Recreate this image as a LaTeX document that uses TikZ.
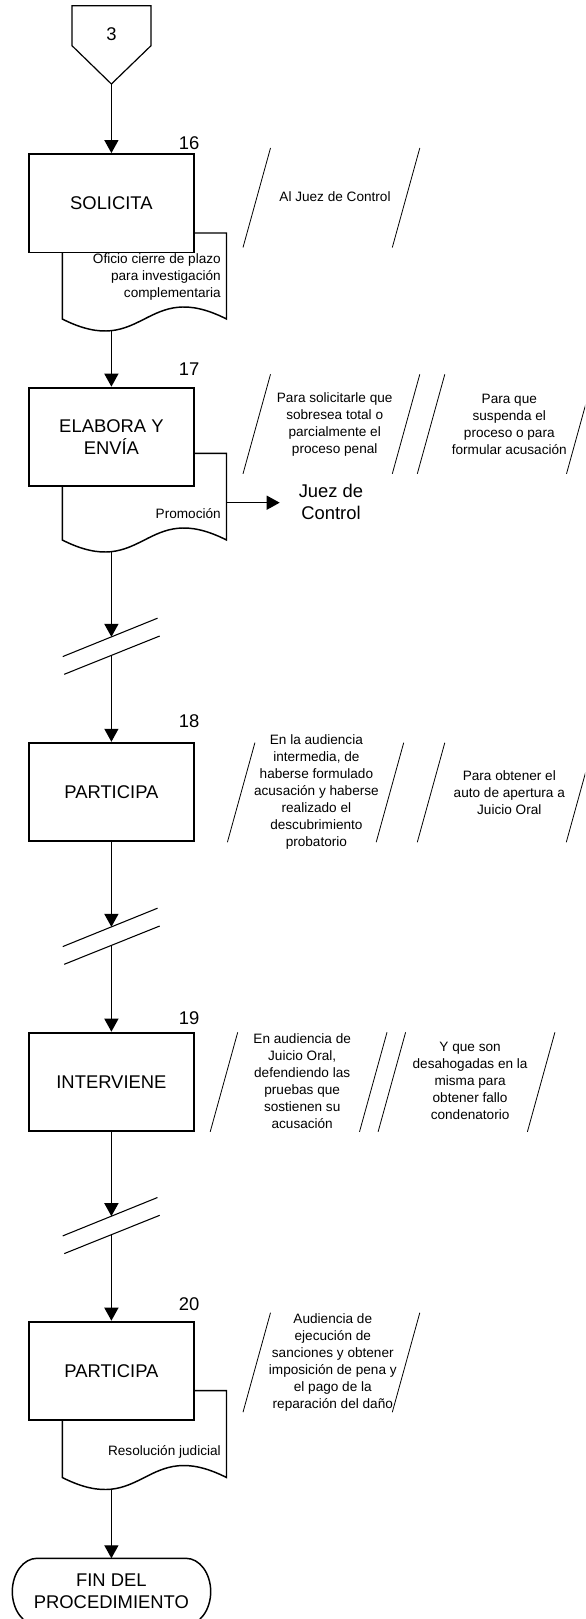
\documentclass[tikz,border=0pt]{standalone}
\usepackage{fontspec}
\setmainfont{Liberation Sans}
\usetikzlibrary{arrows.meta}
\newcommand\annslash[2]{\draw[slash] (#1,#2) -- ++(-27.5,99.5);}
\newcommand\brkmark[1]{%
  \draw[brkline] (62.7,#1+19.7) -- (157.5,#1-18.7);
  \draw[brkline] (64.2,#1+18.5+18.9) -- (159.7,#1+18.5-19.4);}
\newcommand\docpath[2]{% top, baseline
  \draw[docshape] (62.3,#1) -- (62.3,#2) .. controls (144.4,#2+41.6) and (144.4,#2-41.6) .. (226.5,#2) -- (226.5,#1) -- cycle;}
\begin{document}
\begin{tikzpicture}[x=0.75pt,y=-0.75pt,
  box/.style={draw,line width=1.4pt,fill=white,minimum width=123.5pt,minimum height=73.9pt,inner sep=0pt,font=\fontsize{13.8}{16.5}\selectfont,align=center},
  big/.style={inner sep=0pt,font=\fontsize{13.8}{16.5}\selectfont,align=center},
  small/.style={inner sep=0pt,font=\fontsize{10.2}{12.7}\selectfont,align=center},
  doctext/.style={inner sep=0pt,font=\fontsize{10.2}{12.7}\selectfont,align=right,anchor=east},
  arr/.style={line width=1pt,-{Triangle[length=9.75pt,width=10.5pt]}},
  docshape/.style={draw,line width=1.1pt,fill=white},
  slash/.style={line width=0.6pt},
  brkline/.style={line width=0.8pt}]
\useasboundingbox (0,0) rectangle (585,1619);
\clip (0,0) rectangle (585,1619);

% off-page connector
\draw[line width=0.9pt] (72,5.7) -- (151,5.7) -- (151,45.7) -- (111.4,84) -- (72,45.7) -- cycle;
\node[big] (n3) at (111.4,34) {3};
\coordinate (c3tip) at (111.4,84);

% step 16
\docpath{233}{319}
\node[doctext] (t1) at (221,276.7) {Oficio cierre de plazo\\para investigación\\complementaria};
\node[box] (b1) at (111.4,203.3) {SOLICITA};
\node[big] (s16) at (189,142.7) {16};
\annslash{270.5}{148}
\annslash{419.8}{148}
\node[small] (a1) at (335,197) {Al Juez de Control};
\coordinate (d1b) at (111.4,330.7);

% step 17
\docpath{453.3}{540}
\node[doctext] (t2) at (221,514) {Promoción};
\node[box] (b2) at (111.4,436.9) {ELABORA Y\\ENVÍA};
\node[big] (s17) at (189,369.3) {17};
\annslash{270.5}{374.3}
\annslash{419.8}{374.3}
\annslash{444.8}{374.3}
\annslash{594}{374.3}
\node[small] (a2) at (334.7,424.2) {Para solicitarle que\\sobresea total o\\parcialmente el\\proceso penal};
\node[small] (a3) at (509.3,424.2) {Para que\\suspenda el\\proceso o para\\formular acusación};
\node[big,inner xsep=14.1pt] (jc) at (331,502.2) {Juez de\\Control};
\coordinate (d2r) at (226.5,502.7);
\coordinate (d2b) at (111.4,551.7);

% break 1
\brkmark{636.9}
\coordinate (k1t) at (111.4,636.9);
\coordinate (k1b) at (111.4,655.4);

% step 18
\node[box] (b3) at (111.4,792) {PARTICIPA};
\node[big] (s18) at (189,720.7) {18};
\annslash{254.9}{742.7}
\annslash{403.7}{742.7}
\annslash{444.8}{742.7}
\annslash{593.8}{742.7}
\node[small] (a4) at (316.4,792.2) {En la audiencia\\intermedia, de\\haberse formulado\\acusación y haberse\\realizado el\\descubrimiento\\probatorio};
\node[small] (a5) at (509.3,792.2) {Para obtener el\\auto de apertura a\\Juicio Oral};

% break 2
\brkmark{926.9}
\coordinate (k2t) at (111.4,926.9);
\coordinate (k2b) at (111.4,945.4);

% step 19
\node[box] (b4) at (111.4,1081.9) {INTERVIENE};
\node[big] (s19) at (189,1018) {19};
\annslash{237.7}{1032.3}
\annslash{387}{1032.3}
\annslash{405.6}{1032.3}
\annslash{554.9}{1032.3}
\node[small] (a6) at (302.2,1081.3) {En audiencia de\\Juicio Oral,\\defendiendo las\\pruebas que\\sostienen su\\acusación};
\node[small] (a7) at (470.1,1080.8) {Y que son\\desahogadas en la\\misma para\\obtener fallo\\condenatorio};

% break 3
\brkmark{1216.2}
\coordinate (k3t) at (111.4,1216.2);
\coordinate (k3b) at (111.4,1234.7);

% step 20
\docpath{1390.7}{1477.5}
\node[doctext] (t5) at (221,1452.3) {Resolución judicial};
\node[box] (b5) at (111.4,1370.9) {PARTICIPA};
\node[big] (s20) at (189,1304) {20};
\annslash{270.5}{1312.7}
\annslash{419.8}{1312.7}
\node[small] (a8) at (332.8,1362.5) {Audiencia de\\ejecución de\\sanciones y obtener\\imposición de pena y\\el pago de la\\reparación del daño};
\coordinate (d5b) at (111.4,1489.2);

% terminal (bottom runs past the page edge, as in the reference)
\draw[line width=1.1pt] (37,1558.3) -- (186,1558.3)
  .. controls (199.6,1558.3) and (210.7,1573.2) .. (210.7,1591.6)
  .. controls (210.7,1610) and (199.6,1625) .. (186,1625) -- (37,1625)
  .. controls (23.4,1625) and (12.3,1610) .. (12.3,1591.6)
  .. controls (12.3,1573.2) and (23.4,1558.3) .. (37,1558.3) -- cycle;
\node[big] (fin) at (111.4,1591.7) {FIN DEL\\PROCEDIMIENTO};
\coordinate (fintop) at (111.4,1558.3);

% connectors
\draw[arr] (c3tip) -- (b1.north);
\draw[arr] (d1b) -- (b2.north);
\draw[arr] (d2r) -- (d2r -| jc.west);
\draw[arr] (d2b) -- (k1t);
\draw[arr] (k1b) -- (b3.north);
\draw[arr] (b3.south) -- (k2t);
\draw[arr] (k2b) -- (b4.north);
\draw[arr] (b4.south) -- (k3t);
\draw[arr] (k3b) -- (b5.north);
\draw[arr] (d5b) -- (fintop);
\end{tikzpicture}
\end{document}
